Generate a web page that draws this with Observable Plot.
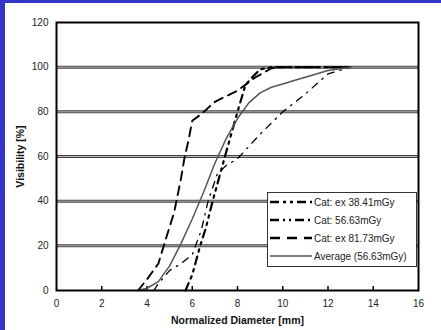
<!DOCTYPE html>
<html>
<head>
<meta charset="utf-8">
<script src="https://cdn.jsdelivr.net/npm/d3@7"></script>
<script src="https://cdn.jsdelivr.net/npm/@observablehq/plot@0.6"></script>
<style>
  html, body { margin: 0; padding: 0; background: #fff; width: 441px; height: 330px; overflow: hidden; }
  #wrap { position: relative; width: 441px; height: 330px; overflow: hidden; background: #fff; font-family: "Liberation Sans", Arial, sans-serif; }
  #chart svg { display: block; }
  .blueL { position: absolute; left: 0; top: 0; width: 5px; height: 330px; background: #3434c4; }
  .blueT { position: absolute; left: 0; top: 0; width: 441px; height: 3px; background: #3434c4; }
  #legend { position: absolute; left: 267px; top: 192px; width: 148px; height: 73px; border: 1px solid #333; background: #fff; }
  #legend .row { position: absolute; left: 0; height: 14px; display: flex; align-items: center; font-size: 10px; color: #222; white-space: nowrap; }
  #legend svg { display: block; margin-left: 2px; margin-right: 2px; }
</style>
</head>
<body>
<div id="wrap">
  <div id="chart"></div>
  <div class="blueL"></div>
  <div class="blueT"></div>
  <div id="legend"></div>
</div>
<script>
// ---- data ----
const xTicks = [0, 2, 4, 6, 8, 10, 12, 14, 16];
const yTicks = [0, 20, 40, 60, 80, 100, 120];
const gridLines = [20, 40, 60, 80, 100];

const seriesNames = ["Cat: ex 38.41mGy", "Cat: 56.63mGy", "Cat: ex 81.73mGy", "Average (56.63mGy)"];

const ex38X = [5.7, 6.0, 6.35, 6.6, 6.9, 7.2, 7.5, 8.0, 8.35, 8.7, 9.0, 9.5, 13];
const ex38Y = [0, 7, 20, 28, 40, 51, 62, 80, 92, 96, 99, 100, 100];

const c56X = [4.3, 4.5, 5.0, 5.5, 6.0, 6.4, 6.7, 7.1, 7.5, 8.0, 9.0, 10.0, 11.0, 12.0, 13.0];
const c56Y = [0, 3, 9, 12, 16, 27, 40, 52, 56, 59, 70, 80, 88, 97, 100];

const ex81X = [3.6, 4.0, 4.5, 4.8, 5.2, 5.5, 5.65, 5.85, 6.0, 6.4, 7.0, 8.0, 8.8, 9.5, 10, 13];
const ex81Y = [0, 5, 12, 22, 35, 50, 59, 68, 76, 79, 84.5, 89.5, 95.5, 99.5, 100, 100];

const avgX = [3.6, 4.0, 4.5, 5.0, 5.5, 6.0, 6.5, 7.0, 7.5, 8.0, 8.5, 9.0, 9.5, 10, 10.5, 11, 12, 13];
const avgY = [0, 1, 4, 11, 21, 32, 44, 57, 68, 77, 84, 88.5, 91, 92.5, 94, 95.5, 98.5, 100];

// ---- styles ----
const styles = [
  {stroke: "#000", strokeWidth: 2.2, dash: "8,5,2.5,5,2.5,5", legendDash: "9,4,3,4,3,4"},
  {stroke: "#000", strokeWidth: 1.3, dash: "7,6,1.5,6", legendDash: "9,4,2,4,2,4"},
  {stroke: "#000", strokeWidth: 1.9, dash: "9,6", legendDash: "10,7"},
  {stroke: "#555", strokeWidth: 1.5, dash: null, legendDash: null}
];

const toRows = (xs, ys) => xs.map((x, i) => ({x, y: ys[i]}));
const seriesData = [toRows(ex38X, ex38Y), toRows(c56X, c56Y), toRows(ex81X, ex81Y), toRows(avgX, avgY)];

const marks = [
  Plot.ruleY(gridLines, {stroke: "#444", strokeWidth: 3}),
  Plot.ruleY(gridLines, {stroke: "#b5b5b5", strokeWidth: 1}),
  Plot.ruleX(xTicks.slice(1, -1), {y1: 0, y2: 1.8, stroke: "#000", strokeWidth: 1.5}),
  Plot.axisX({ticks: xTicks, tickSize: 0, tickPadding: 9, tickFormat: d => d, fontSize: 10,
    label: "Normalized Diameter [mm]", labelAnchor: "center", labelOffset: 33, labelArrow: "none"}),
  Plot.axisY({ticks: yTicks, tickSize: 0, tickPadding: 8, tickFormat: d => d, fontSize: 10,
    label: "Visibility [%]", labelAnchor: "center", labelOffset: 40, labelArrow: "none"}),
];
seriesData.forEach((d, i) => {
  const s = styles[i];
  marks.push(Plot.line(d, {x: "x", y: "y", stroke: s.stroke, strokeWidth: s.strokeWidth,
    strokeDasharray: s.dash || undefined, strokeLinejoin: "miter"}));
});
marks.push(Plot.frame({stroke: "#000", strokeWidth: 2}));

const chart = Plot.plot({
  width: 441,
  height: 330,
  marginLeft: 56,
  marginRight: 23,
  marginTop: 22,
  marginBottom: 40,
  style: {fontFamily: "'Liberation Sans', Arial, sans-serif", fontSize: "10px", color: "#222", background: "#fff"},
  x: {domain: [0, 16]},
  y: {domain: [0, 120]},
  marks
});
document.getElementById("chart").appendChild(chart);

// bold axis titles
chart.querySelectorAll("g[aria-label='x-axis label'] text, g[aria-label='y-axis label'] text").forEach(t => {
  t.setAttribute("font-weight", "bold");
  t.setAttribute("font-size", "10.5");
  t.setAttribute("fill", "#111");
});

// ---- legend ----
const legend = document.getElementById("legend");
const rowTops = [2, 20, 38, 56];
seriesNames.forEach((name, i) => {
  const s = styles[i];
  const row = document.createElement("div");
  row.className = "row";
  row.style.top = rowTops[i] + "px";
  const ns = "http://www.w3.org/2000/svg";
  const svg = document.createElementNS(ns, "svg");
  svg.setAttribute("width", 42);
  svg.setAttribute("height", 10);
  const ln = document.createElementNS(ns, "line");
  ln.setAttribute("x1", 0); ln.setAttribute("x2", 42);
  ln.setAttribute("y1", 5); ln.setAttribute("y2", 5);
  ln.setAttribute("stroke", s.stroke);
  ln.setAttribute("stroke-width", i === 3 ? 1.5 : 2.5);
  if (s.legendDash) ln.setAttribute("stroke-dasharray", s.legendDash);
  svg.appendChild(ln);
  row.appendChild(svg);
  const span = document.createElement("span");
  span.textContent = name;
  row.appendChild(span);
  legend.appendChild(row);
});
</script>
</body>
</html>
